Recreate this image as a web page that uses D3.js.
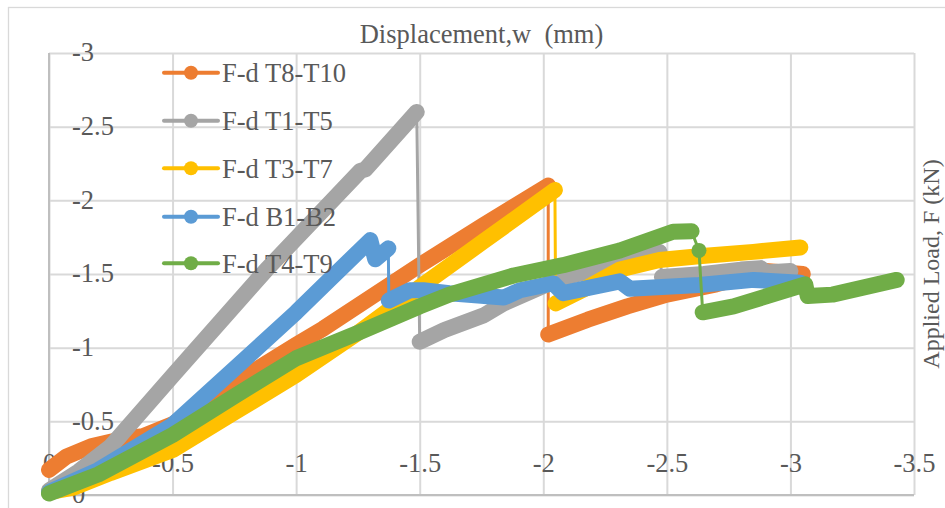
<!DOCTYPE html>
<html>
<head>
<meta charset="utf-8">
<script src="https://cdn.jsdelivr.net/npm/d3@7"></script>
<style>
  html, body { margin: 0; padding: 0; background: #ffffff; }
  svg { display: block; }
  text { font-family: "Liberation Serif", "Times New Roman", serif; fill: #595959; }
</style>
</head>
<body>
<svg id="chart" width="945" height="508"></svg>
<script>
// ---------------- DATA ----------------
const seriesNames = ["F-d T8-T10", "F-d T1-T5", "F-d T3-T7", "F-d B1-B2", "F-d T4-T9"];
const seriesColors = ["#ED7D31", "#A5A5A5", "#FFC000", "#5B9BD5", "#70AD47"];

const xTicks = [0, -0.5, -1, -1.5, -2, -2.5, -3, -3.5];
const xTickLabels = ["0", "-0.5", "-1", "-1.5", "-2", "-2.5", "-3", "-3.5"];
const yTicks = [0, -0.5, -1, -1.5, -2, -2.5, -3];
const yTickLabels = ["0", "-0.5", "-1", "-1.5", "-2", "-2.5", "-3"];

// Each series: list of runs of [displacement (mm), load (kN)]; runs are joined by thin lines (sudden drops)
const dataT8T10 = [
  [[0,-0.17],[-0.07,-0.26],[-0.17,-0.33],[-0.31,-0.385],[-0.38,-0.40],[-0.5,-0.48],[-0.66,-0.66],[-0.79,-0.80],[-1.0,-1.02],[-1.11,-1.13],[-1.5,-1.56],[-1.757,-1.83],[-2.02,-2.10]],
  [[-2.02,-1.09],[-2.18,-1.19],[-2.34,-1.28],[-2.5,-1.36],[-2.7,-1.43],[-2.9,-1.52],[-3.05,-1.50]]
];
const dataT1T5 = [
  [[0,-0.03],[-0.12,-0.16],[-0.25,-0.33],[-0.5,-0.81],[-0.88,-1.53],[-1.26,-2.20],[-1.28,-2.21],[-1.488,-2.60]],
  [[-1.50,-1.04],[-1.60,-1.12],[-1.76,-1.22],[-1.84,-1.30],[-2.07,-1.47],[-2.3,-1.57],[-2.47,-1.65]],
  [[-2.48,-1.48],[-2.65,-1.50],[-2.8,-1.53],[-2.88,-1.54],[-2.9,-1.51],[-3.0,-1.52]]
];
const dataT3T7 = [
  [[0,-0.02],[-0.1,-0.05],[-0.25,-0.15],[-0.5,-0.305],[-0.75,-0.56],[-1.0,-0.815],[-1.25,-1.1],[-1.5,-1.41],[-1.757,-1.72],[-2.047,-2.07]],
  [[-2.05,-1.30],[-2.18,-1.41],[-2.31,-1.53],[-2.47,-1.595],[-2.63,-1.62],[-2.85,-1.65],[-3.04,-1.68]]
];
const dataB1B2 = [
  [[0,-0.02],[-0.2,-0.17],[-0.5,-0.475],[-0.746,-0.85],[-1.0,-1.24],[-1.11,-1.42],[-1.30,-1.73],[-1.32,-1.60],[-1.373,-1.674]],
  [[-1.375,-1.32],[-1.46,-1.39],[-1.515,-1.39],[-1.62,-1.37],[-1.84,-1.34],[-1.906,-1.39],[-2.04,-1.437],[-2.08,-1.37],[-2.31,-1.45],[-2.35,-1.40],[-2.63,-1.425],[-2.85,-1.46],[-3.04,-1.44]]
];
const dataT4T9 = [
  [[0,-0.01],[-0.2,-0.14],[-0.5,-0.407],[-0.75,-0.67],[-1.0,-0.928],[-1.25,-1.10],[-1.5,-1.28],[-1.62,-1.36],[-1.88,-1.49],[-2.08,-1.56],[-2.31,-1.66],[-2.525,-1.787],[-2.60,-1.79]],
  [[-2.63,-1.66]],
  [[-2.645,-1.24],[-2.77,-1.28],[-3.06,-1.43],[-3.07,-1.35],[-3.17,-1.36],[-3.43,-1.46]]
];
const allSeries = [dataT8T10, dataT1T5, dataT3T7, dataB1B2, dataT4T9];

const titleText = "Displacement,w\u00a0 (mm)";
const yTitleText = "Applied Load, F (kN)";

// ---------------- CHART ----------------
const svg = d3.select("#chart");
const plot = {left: 49, right: 914, top: 53, bottom: 495};
const FONT = "26.5px";

const x = d3.scaleLinear().domain([0, -3.5]).range([plot.left, plot.right]);
const y = d3.scaleLinear().domain([0, -3]).range([plot.bottom, plot.top]);

// chart area frame
svg.append("rect")
  .attr("x", 8.5).attr("y", 7.5).attr("width", 960).attr("height", 520)
  .attr("fill", "#ffffff").attr("stroke", "#d9d9d9").attr("stroke-width", 1.3);

// gridlines
const gx = svg.append("g").attr("transform", `translate(0,${plot.bottom})`)
  .call(d3.axisBottom(x).tickValues(xTicks).tickSize(-(plot.bottom - plot.top)).tickFormat(""));
gx.select(".domain").remove();
gx.selectAll("line").attr("stroke", "#d9d9d9").attr("stroke-width", 2);

const gy = svg.append("g").attr("transform", `translate(${plot.left},0)`)
  .call(d3.axisLeft(y).tickValues(yTicks).tickSize(-(plot.right - plot.left)).tickFormat(""));
gy.select(".domain").remove();
gy.selectAll("line").attr("stroke", "#d9d9d9").attr("stroke-width", 2);

// axis lines (slightly darker)
svg.append("line").attr("x1", x(0)).attr("x2", x(0)).attr("y1", plot.top).attr("y2", plot.bottom)
  .attr("stroke", "#bfbfbf").attr("stroke-width", 2);
svg.append("line").attr("x1", plot.left).attr("x2", plot.right).attr("y1", y(0)).attr("y2", y(0))
  .attr("stroke", "#bfbfbf").attr("stroke-width", 2);

// x tick labels (drawn inside plot, near bottom)
const xl = svg.append("g").attr("transform", `translate(0,463)`)
  .call(d3.axisBottom(x).tickValues(xTicks).tickSize(0).tickPadding(0)
    .tickFormat((d, i) => xTickLabels[i]));
xl.select(".domain").remove();
xl.selectAll("text").attr("y", 0).attr("dy", "0.35em")
  .style("font-size", FONT).style("fill", "#595959")
  .style("font-family", "'Liberation Serif','Times New Roman',serif");

// y tick labels (left aligned inside plot)
const yl = svg.append("g").attr("transform", `translate(72,-1.5)`)
  .call(d3.axisLeft(y).tickValues(yTicks).tickSize(0).tickPadding(0)
    .tickFormat((d, i) => yTickLabels[i]));
yl.select(".domain").remove();
yl.selectAll("text").attr("x", 0).attr("dy", "0.35em").attr("text-anchor", "start")
  .style("font-size", FONT).style("fill", "#595959")
  .style("font-family", "'Liberation Serif','Times New Roman',serif");

// series
const line = d3.line().x(d => x(d[0])).y(d => y(d[1]));
allSeries.forEach((runs, si) => {
  const g = svg.append("g");
  const col = seriesColors[si];
  g.append("path").datum(runs.flat())
    .attr("d", line).attr("fill", "none").attr("stroke", col)
    .attr("stroke-width", 3).attr("stroke-linejoin", "round");
  runs.forEach(run => {
    if (run.length > 1) {
      g.append("path").datum(run)
        .attr("d", line).attr("fill", "none").attr("stroke", col)
        .attr("stroke-width", 16).attr("stroke-linecap", "round").attr("stroke-linejoin", "round");
    } else {
      g.append("circle").attr("cx", x(run[0][0])).attr("cy", y(run[0][1]))
        .attr("r", 7.5).attr("fill", col);
    }
  });
});

// legend
const legendY = [72.7, 120.7, 168.3, 216.7, 263.3];
const lg = svg.append("g");
seriesNames.forEach((name, i) => {
  const row = lg.append("g").attr("transform", `translate(0,${legendY[i]})`);
  row.append("line").attr("x1", 164).attr("x2", 218).attr("y1", 0).attr("y2", 0)
    .attr("stroke", seriesColors[i]).attr("stroke-width", 4).attr("stroke-linecap", "round");
  row.append("circle").attr("cx", 191).attr("cy", 0).attr("r", 7).attr("fill", seriesColors[i]);
  row.append("text").attr("x", 222).attr("y", 0).attr("dy", "0.35em")
    .style("font-size", FONT).text(name);
});

// titles
svg.append("text").attr("x", (plot.left + plot.right) / 2).attr("y", 43)
  .attr("text-anchor", "middle").style("font-size", FONT).text(titleText);
svg.append("text").attr("transform", "translate(939,264) rotate(-90)")
  .attr("text-anchor", "middle").style("font-size", "24px").text(yTitleText);
</script>
</body>
</html>
